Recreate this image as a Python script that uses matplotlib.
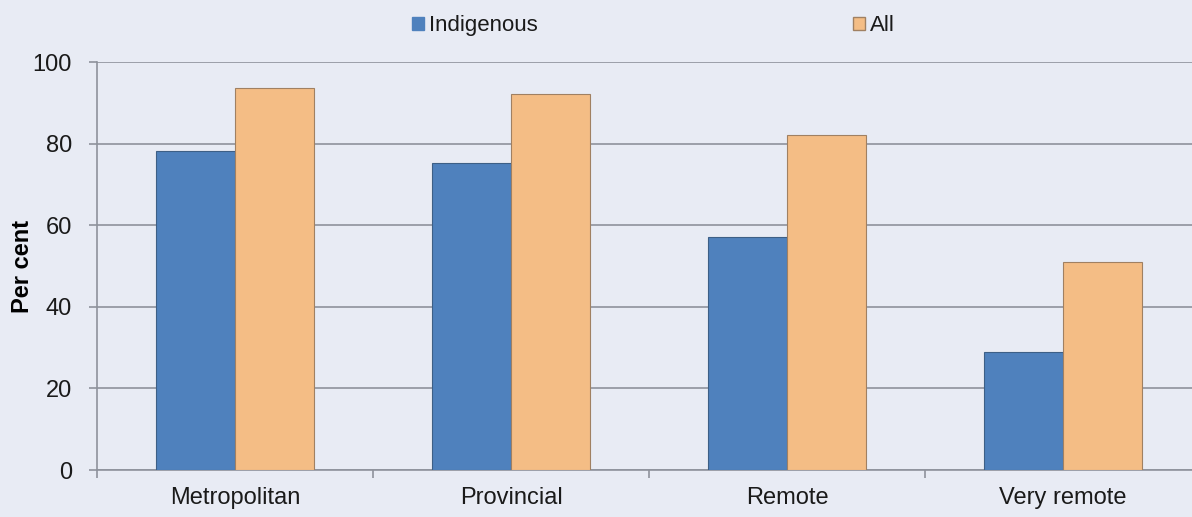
import numpy as np
import matplotlib.pyplot as plt
from matplotlib.patches import Patch

categories = ['Metropolitan', 'Provincial', 'Remote', 'Very remote']
indigenous = [78.3, 75.2, 57.2, 28.9]
all_people = [93.6, 92.2, 82.2, 51.1]

bg = '#e8ebf4'
blue = '#4f81bd'
orange = '#f4bd85'
gridc = '#8e929c'

plt.rcParams['font.family'] = ['Liberation Sans', 'DejaVu Sans']
plt.rcParams['text.color'] = '#1a1a1a'

fig = plt.figure(figsize=(11.92, 5.17), dpi=100, facecolor=bg)
ax = fig.add_axes([0.0814, 0.0909, 0.9262, 0.789])
ax.set_facecolor(bg)

x = np.arange(len(categories))
w = 0.286
ax.bar(x - w/2, indigenous, w, color=blue, edgecolor='#3d5f86', linewidth=0.8, zorder=3)
ax.bar(x + w/2, all_people, w, color=orange, edgecolor='#a08062', linewidth=0.8, zorder=3)

ax.set_xlim(-0.5, 3.5)
ax.set_ylim(0, 100)
ax.set_yticks(np.arange(0, 101, 20))
ax.yaxis.grid(True, color=gridc, linewidth=1.2, zorder=0)
ax.set_axisbelow(True)

ax.set_xticks(x)
ax.set_xticklabels(categories, fontsize=17, color='#1a1a1a')
ax.tick_params(axis='x', which='major', length=0, pad=12)
ax.set_xticks([-0.5, 0.5, 1.5, 2.5, 3.5], minor=True)
ax.tick_params(axis='x', which='minor', length=6, color=gridc, width=1.2)
ax.tick_params(axis='y', length=6, color=gridc, width=1.2, labelsize=17, pad=12,
               labelcolor='#1a1a1a')

for s in ['top', 'right']:
    ax.spines[s].set_visible(False)
ax.spines['left'].set_color(gridc)
ax.spines['left'].set_linewidth(1.2)
ax.spines['bottom'].set_color(gridc)
ax.spines['bottom'].set_linewidth(1.2)

ax.set_ylabel('Per cent', fontsize=17, fontweight='bold', labelpad=-1)

handles = [Patch(facecolor=blue, edgecolor=blue), Patch(facecolor=orange, edgecolor='#a08062')]
fig.legend(handles, ['Indigenous', 'All'], loc='center', bbox_to_anchor=(0.548, 0.95),
           ncol=2, frameon=False, fontsize=16, columnspacing=14.2, handlelength=0.54,
           handleheight=0.54, handletextpad=0.22)

fig.savefig('out.png', dpi=100, facecolor=bg)
